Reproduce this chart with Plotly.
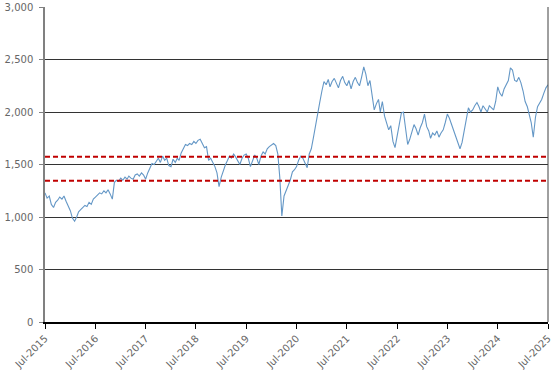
import plotly.graph_objects as go

# Semi-monthly observations (1st and 16th of each month), Jul-2015 .. Jul-2025
values = [
    # 2015 Jul-Dec
    1230, 1180, 1200, 1120, 1090, 1140, 1160, 1190, 1170, 1200, 1150, 1110,
    # 2016
    1060, 990, 960, 1000, 1050, 1070, 1090, 1110, 1100, 1140, 1120, 1170,
    1190, 1210, 1230, 1220, 1250, 1230, 1260, 1220, 1170, 1330, 1350, 1340,
    # 2017
    1370, 1350, 1380, 1360, 1390, 1370, 1360, 1400, 1410, 1390, 1420, 1400,
    1360, 1420, 1470, 1510, 1500, 1530, 1560, 1520, 1580, 1540, 1560, 1490,
    # 2018
    1480, 1550, 1520, 1560, 1540, 1610, 1660, 1690, 1680, 1700, 1690, 1720,
    1700, 1730, 1740, 1700, 1660, 1670, 1540, 1560, 1520, 1480, 1420, 1290,
    # 2019
    1380, 1450, 1500, 1540, 1580, 1560, 1600, 1570, 1530, 1500, 1560, 1590,
    1600, 1560, 1480, 1540, 1590, 1560, 1500, 1580, 1620, 1600, 1650, 1670,
    # 2020
    1690, 1700, 1680, 1600, 1380, 1010, 1200, 1260, 1300, 1350, 1430, 1450,
    1480, 1540, 1580, 1560, 1520, 1470, 1600, 1650, 1760, 1880, 2000, 2090,
    # 2021
    2200, 2290, 2260, 2310, 2240, 2290, 2320, 2270, 2230, 2300, 2340, 2280,
    2250, 2300, 2220, 2290, 2330, 2280, 2250, 2330, 2430, 2360, 2250, 2300,
    # 2022
    2170, 2020, 2080, 2120, 2000, 2100, 1960, 1900, 1830, 1870, 1720, 1660,
    1780, 1880, 1990, 2000, 1860, 1690, 1740, 1800, 1880, 1840, 1780, 1850,
    # 2023
    1900, 1980, 1860, 1820, 1750, 1800, 1780, 1820, 1760, 1800, 1830, 1900,
    1980, 1940, 1880, 1820, 1760, 1720, 1650, 1710, 1830, 1950, 2040, 2000,
    # 2024
    2020, 2060, 2090, 2050, 2000, 2060, 2030, 2000, 2060, 2040, 2020, 2100,
    2240, 2180, 2150, 2220, 2260, 2300, 2420, 2400, 2300, 2290, 2330, 2280,
    # 2025 Jan-Jul
    2200, 2100, 2050, 1950, 1900, 1760, 1950, 2050, 2080, 2120, 2180, 2230,
    2260,
]

dates = []
for y in range(2015, 2026):
    for m in range(1, 13):
        if (y, m) < (2015, 7):
            continue
        for d in (1, 16):
            if (y, m, d) > (2025, 7, 1):
                continue
            dates.append(f"{y}-{m:02d}-{d:02d}")
dates = dates[:len(values)]

upper_band = 1575
lower_band = 1345

tick_dates = [f"{y}-07-01" for y in range(2015, 2026)]
tick_labels = [f"Jul-{y}" for y in range(2015, 2026)]
y_ticks = [0, 500, 1000, 1500, 2000, 2500, 3000]

fig = go.Figure()
fig.add_trace(go.Scatter(x=dates, y=values, mode="lines",
                         line=dict(color="#6497c6", width=1.1), showlegend=False))
for lvl in (upper_band, lower_band):
    fig.add_trace(go.Scatter(x=[tick_dates[0], tick_dates[-1]], y=[lvl, lvl], mode="lines",
                             line=dict(color="#c00000", width=2, dash="5px,3px"),
                             showlegend=False))

fig.add_shape(type="line", xref="paper", yref="paper", x0=1, x1=1, y0=0, y1=1,
              line=dict(color="#404040", width=1))

fig.update_layout(
    width=555, height=378,
    margin=dict(l=45, r=7, t=7, b=56),
    paper_bgcolor="white", plot_bgcolor="white",
    font=dict(family="DejaVu Sans", size=10, color="#666666"),
    xaxis=dict(range=[tick_dates[0], tick_dates[-1]], tickvals=tick_dates, ticktext=tick_labels,
               tickangle=-45, showgrid=False, zeroline=False, automargin=False,
               showline=True, linecolor="black", linewidth=1.5,
               ticks="outside", ticklen=5, tickcolor="black"),
    yaxis=dict(range=[0, 3000], tickvals=y_ticks, tickformat=",", automargin=False,
               showgrid=True, gridcolor="#333333", gridwidth=1, zeroline=False,
               showline=True, linecolor="#808080", linewidth=1.5,
               ticks="outside", ticklen=4, tickcolor="#808080", ticklabelstandoff=4),
)

fig.write_html("out.html", config={"displayModeBar": False},
               post_script="document.body.style.margin='0';document.body.style.padding='0';")
